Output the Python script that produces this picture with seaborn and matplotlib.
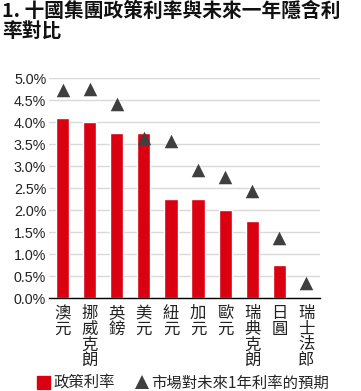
import matplotlib
matplotlib.use("Agg")
import matplotlib.pyplot as plt
import seaborn as sns
import pandas as pd
import numpy as np
from matplotlib.lines import Line2D
from matplotlib.patches import Patch

categories = ["澳元", "挪威克朗", "英鎊", "美元", "紐元", "加元", "歐元", "瑞典克朗", "日圓", "瑞士法郎"]
policy_rate = [4.10, 4.00, 3.75, 3.75, 2.25, 2.25, 2.00, 1.75, 0.75, 0.00]
expected_rate = [4.72, 4.75, 4.42, 3.63, 3.56, 2.91, 2.74, 2.44, 1.36, 0.33]
y_ticks = [0.0, 0.5, 1.0, 1.5, 2.0, 2.5, 3.0, 3.5, 4.0, 4.5, 5.0]
title = "1. 十國集團政策利率與未來一年隱含利\n率對比"
legend_labels = ["政策利率", "市場對未來1年利率的預期"]

sns.set_theme(style="white")
cjk = ["Noto Sans CJK TC", "DejaVu Sans"]
plt.rcParams['font.family'] = cjk

df = pd.DataFrame({"cat": categories, "policy": policy_rate, "expected": expected_rate})

fig = plt.figure(figsize=(3.61, 3.91), dpi=100)
ax = fig.add_axes([49/361, 93/391, 271/361, 220/391])

red = "#DA0010"
tri = "#3F3F3F"
sns.barplot(data=df, x="cat", y="policy", color=red, width=0.49, saturation=1, ax=ax, zorder=2)
ax.scatter(np.arange(len(categories)), df["expected"], marker="^", s=95, color=tri, zorder=3, clip_on=False, linewidths=0)

ax.set_ylim(0, 5.0)
ax.set_xlim(-0.5, len(categories) - 0.5)
ax.set_yticks(y_ticks)
ax.set_yticklabels([f"{v:.1f}%" for v in y_ticks], fontfamily="Liberation Sans", fontsize=10.3, color="#222222")
ax.yaxis.grid(True, color="#D9D9D9", linewidth=1.0, zorder=0)
ax.set_axisbelow(True)
ax.tick_params(axis="y", length=0, pad=2)

ax.set_xticks(np.arange(len(categories)))
ax.set_xticklabels(["\n".join(c) for c in categories], fontsize=11.8, linespacing=0.9, color="#222222", va="top")
ax.set_xticks(np.arange(-0.5, len(categories)), minor=True)
ax.tick_params(axis="x", which="major", length=0, pad=5)
ax.tick_params(axis="x", which="minor", length=5, width=1, color="black", direction="out")
ax.set_xlabel("")
ax.set_ylabel("")

for s in ["top", "right", "left"]:
    ax.spines[s].set_visible(False)
ax.spines["bottom"].set_color("black")
ax.spines["bottom"].set_linewidth(1.0)

fig.text(0.006, 0.995, title, fontsize=14.2, fontweight="bold", va="top", ha="left", linespacing=1.05, color="#111111")

handles = [Patch(facecolor=red, edgecolor=red),
           Line2D([0], [0], marker="^", color="none", markerfacecolor=tri, markeredgewidth=0, markersize=10)]
fig.legend(handles, legend_labels, loc="lower left", bbox_to_anchor=(0.065, -0.038), ncol=2, frameon=False,
           fontsize=11.1, handlelength=0.85, handletextpad=0.2, columnspacing=1.3, handleheight=0.9)

fig.savefig("out.png", dpi=100)
